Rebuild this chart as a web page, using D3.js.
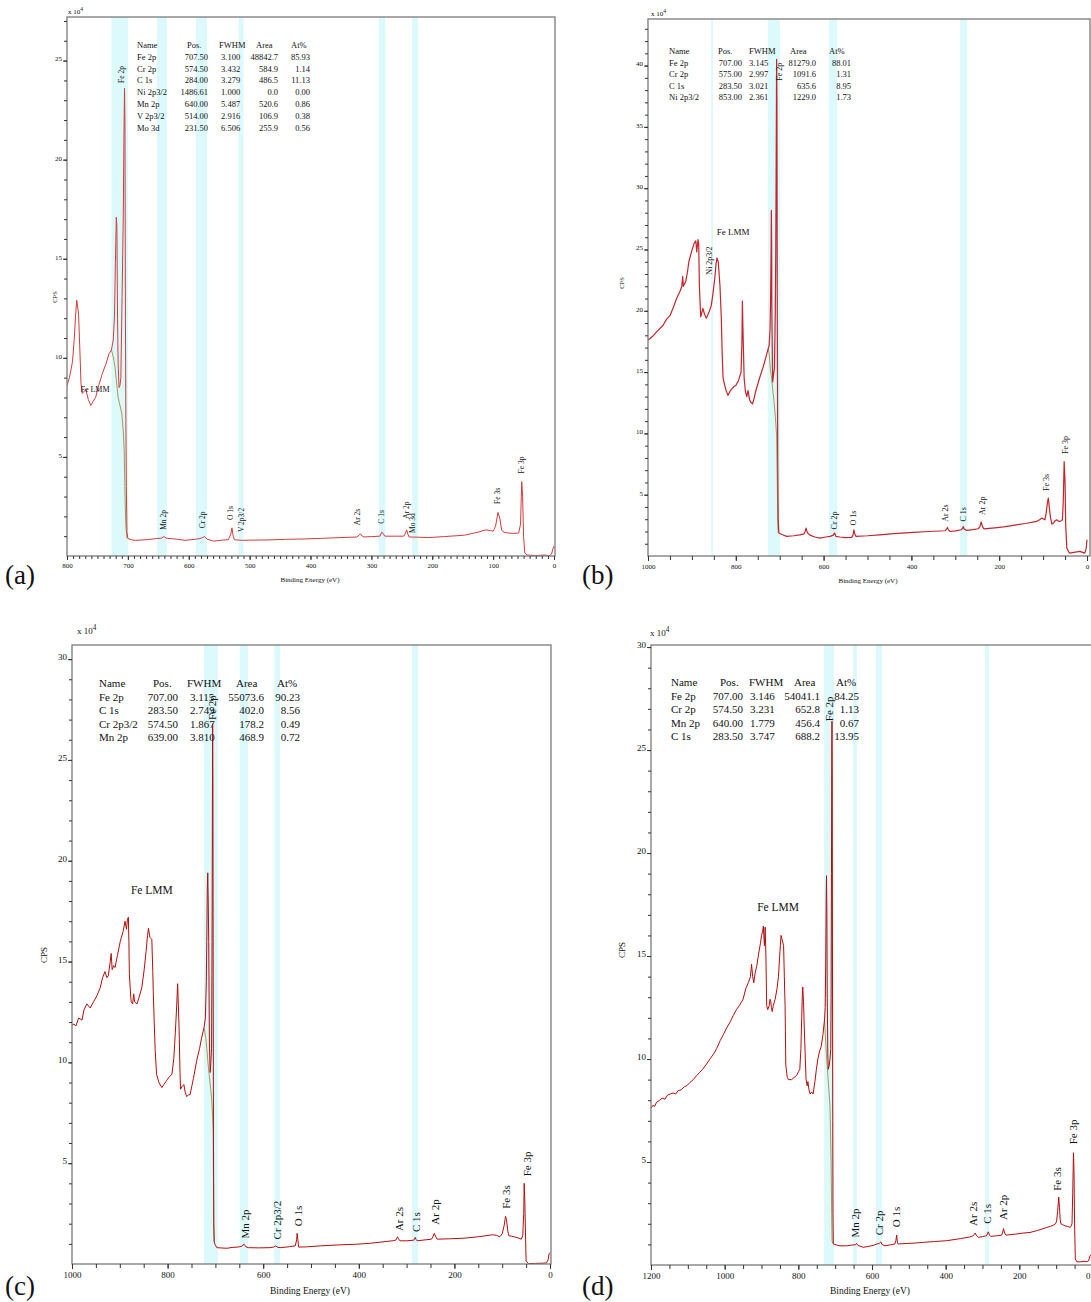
<!DOCTYPE html>
<html><head><meta charset="utf-8">
<script src="https://cdn.jsdelivr.net/npm/d3@7"></script>
<style>
body{margin:0;background:#fff}
svg{display:block}
text{font-family:"Liberation Serif","Times New Roman",serif;fill:#111}
</style>
</head><body>
<svg id="chart" width="1091" height="1302"></svg>
<script>
// ---------------- DATA ----------------
// spectra: [binding energy (eV), CPS (x10^4)]
const spectrumA = [[800,8.6],[796,9.0],[791,9.8],[788,11.0],[786,12.1],[784,12.9],[783,12.7],[781,12.2],[779,10.5],[777,8.7],[775,8.2],[772,8.3],[769,8.4],[765,7.9],[761,7.6],[757,7.8],[753,8.0],[748,8.6],[742,9.2],[736,9.7],[731,10.2],[727,10.4],[724,10.9],[722,12.1],[720.5,14.8],[719,17.1],[718,16.6],[717,12],[716,9.7],[714.5,8.5],[713,8.6],[711.5,9.0],[709.5,13.1],[707.5,17.3],[706.5,21],[705.5,23.6],[704.8,22],[704,12],[703.3,6.9],[702.5,3.5],[701.5,1.2],[700,0.88],[694,0.82],[688,0.79],[670,0.82],[653,0.88],[645,0.9],[641,0.98],[637,0.9],[620,0.85],[606,0.79],[590,0.84],[582,0.88],[578,0.92],[574,0.98],[570,0.85],[559,0.75],[545,0.8],[535,0.82],[531,1.1],[529,1.42],[527,1.0],[525,0.82],[512,0.79],[500,0.8],[470,0.81],[441,0.84],[410,0.86],[382,0.89],[350,0.93],[324,0.96],[320,1.05],[318,1.12],[315,1.0],[312,0.96],[300,0.98],[286,1.0],[283,1.2],[281,1.15],[278,1.0],[260,1.0],[247,1.0],[244,1.15],[242,1.32],[240,1.1],[238,0.96],[225,0.95],[206,0.93],[180,0.98],[147,1.05],[125,1.2],[112,1.32],[104,1.28],[100,1.25],[96,1.5],[92,2.2],[89,1.9],[86,1.3],[82,1.2],[76,1.16],[66,1.14],[58,1.16],[55,1.6],[53,3.75],[51.5,3.0],[50,1.0],[48,0.15],[44,0.05],[30,0.02],[15,0.05],[8,0.0],[4,0.1],[2,0.35],[0,0.5]];
const backgroundA = [[727,10.4],[724,10.05],[721,9.5],[716,8.0],[710,7.2],[707.5,6.3],[706,5.3],[705,3.5],[703.5,1.6],[701.5,0.9]];

const spectrumB = [[1000,17.6],[990,17.9],[980,18.3],[966,18.8],[958,19.3],[950,19.6],[943,20.2],[935,21.0],[927,21.6],[923,22.0],[921,22.8],[919.5,22.0],[914,22.4],[910,23.2],[907,24.0],[901,24.8],[895,25.5],[891,25.7],[889,24.8],[886,25.8],[884.5,25.5],[883,22.1],[880,19.5],[877,19.9],[875,20.2],[871,19.7],[867,19.4],[861,19.9],[856,20.4],[852,21.4],[848,22.6],[845,23.8],[843,24.3],[840,24.0],[836,22.0],[833,19.4],[831,16.5],[829,14.5],[823,13.6],[818,13.1],[812,13.5],[805,13.8],[800,13.9],[794,14.3],[788,15.0],[786,17.5],[785,20.8],[784,19.0],[782.5,16.7],[781,14.5],[778,13.4],[775,13.0],[772,13.5],[769,12.8],[767,12.6],[762,12.4],[758,12.9],[755,13.4],[746,14.5],[737,15.5],[730,16.4],[724,17.2],[722,18.5],[721,20.4],[719.5,25],[719,28.2],[718.3,25],[718,20.4],[716.5,15.5],[716,14.2],[714,14.8],[712,15.3],[710,20],[709,24.8],[708,32],[707,40.5],[706.3,37],[705.5,20],[704.5,8],[703.5,3],[702,1.87],[695,1.75],[684,1.6],[668,1.65],[654,1.73],[645,1.8],[642,2.0],[640,2.28],[637,1.9],[631,1.7],[620,1.55],[608,1.46],[595,1.55],[585,1.6],[578,1.7],[575,1.87],[572,1.6],[563,1.55],[550,1.5],[536,1.52],[533,1.7],[531,2.14],[529,1.8],[526,1.6],[500,1.65],[472,1.73],[440,1.82],[396,1.93],[360,2.0],[323,2.06],[320,2.2],[318,2.33],[316,2.15],[312,2.0],[300,2.05],[286,2.14],[283,2.3],[282,2.41],[280,2.2],[274,2.09],[260,2.15],[248,2.22],[244,2.4],[241,2.77],[238,2.4],[235,2.22],[210,2.3],[190,2.38],[168,2.5],[140,2.65],[115,2.82],[108,2.95],[103,3.09],[98,3.0],[96,2.95],[93,3.5],[90,4.4],[88,4.72],[86,4.0],[83,3.1],[80,2.6],[76,2.7],[72,2.9],[69,2.95],[65,2.85],[62,2.82],[58,2.9],[56,2.95],[54,4.5],[52,7.7],[50,6.0],[48.5,2.5],[46,0.65],[42,0.35],[39,0.24],[30,0.3],[20,0.35],[16,0.38],[10,0.3],[5,0.24],[2,0.6],[0,1.33]];
const backgroundB = [[726,16.9],[724,16.5],[721,15.2],[719,14.7],[716,13.6],[713,12.6],[710,11.4],[707,9.8],[705.5,6],[704.5,3],[703.5,1.9]];

const spectrumC = [[1000,11.85],[996,11.9],[992,11.8],[986,12.2],[979,12.1],[975,12.6],[969,12.9],[962,12.7],[955,13.0],[948,13.3],[941,13.7],[936,14.2],[931,14.5],[927,14.2],[924,14.3],[920,15.0],[918,15.4],[916,14.6],[913,14.8],[910,14.7],[905,15.3],[899,16.0],[893,16.5],[889,17.0],[886,16.6],[884,17.1],[882,17.2],[881,16.0],[880,14.4],[877,13.2],[876,13.0],[873,12.9],[871,13.4],[869,13.0],[864,12.9],[860,13.2],[854,13.7],[849,14.6],[845,15.5],[842,16.3],[840,16.65],[837,16.2],[833,16.1],[831,14.5],[830,13.5],[828,12],[826,10.6],[823,9.4],[818,9.0],[812,8.75],[808,8.9],[802,9.1],[796,9.3],[791,9.4],[787,10.2],[784,11.4],[781,12.8],[779,13.9],[778,13.2],[776,11.7],[774,9.5],[773,8.67],[770,8.8],[766,8.9],[763,8.5],[760,8.3],[756,8.4],[753,8.4],[746,9.2],[739,10.1],[733,10.7],[729,11.2],[724,11.7],[721,12.2],[719,14],[718,16.0],[717,18.5],[716,19.4],[715,18],[714,16.0],[712.5,11],[711,9.5],[709.5,10.0],[708,10.7],[707,16],[706.3,22],[705.8,26.8],[705.2,24],[704.6,14],[704,6],[703.4,2],[702.5,1.1],[701,0.98],[697,0.81],[690,0.8],[676,0.78],[665,0.82],[653,0.84],[645,0.88],[640,0.98],[636,0.85],[631,0.81],[610,0.8],[586,0.81],[578,0.84],[574,0.9],[569,0.82],[563,0.81],[545,0.86],[533,0.9],[530,1.2],[529,1.52],[527,1.1],[526,0.84],[510,0.85],[480,0.9],[440,0.95],[405,0.98],[375,1.03],[345,1.11],[330,1.15],[323,1.18],[320,1.3],[319,1.35],[317,1.25],[314,1.15],[300,1.15],[285,1.18],[283,1.28],[282,1.32],[280,1.2],[278,1.15],[260,1.2],[248,1.23],[245,1.35],[242,1.52],[239,1.35],[236,1.23],[210,1.25],[180,1.28],[150,1.35],[120,1.45],[112,1.42],[105,1.35],[100,1.5],[96,1.9],[93,2.36],[91,2.2],[88,1.6],[86,1.4],[80,1.38],[75,1.35],[71,1.32],[65,1.28],[60,1.23],[57,1.4],[55,2.5],[54,4.0],[52.5,3.0],[51,1.2],[50,0.14],[45,0.02],[30,0.03],[15,0.04],[7.5,0.05],[4,0.2],[2,0.5],[0,0.56]];
const backgroundC = [[724,11.7],[722,11.5],[720,11.2],[718,10.7],[716,10.1],[713,9.4],[710,8.7],[708,8.25],[706,7.4],[704.6,6.6],[704,4],[703.3,1.8],[702.5,1.1]];

const spectrumD = [[1200,7.6],[1195,7.75],[1190,7.7],[1185,7.9],[1176,8.0],[1170,8.1],[1162,8.05],[1155,8.25],[1148,8.3],[1140,8.35],[1133,8.3],[1126,8.47],[1118,8.5],[1110,8.65],[1103,8.7],[1095,8.85],[1085,9.0],[1076,9.2],[1068,9.35],[1060,9.5],[1049,9.76],[1040,10.0],[1030,10.25],[1022,10.5],[1012,10.9],[1003,11.2],[995,11.5],[985,11.8],[977,12.1],[968,12.4],[960,12.6],[950,12.9],[943,13.4],[936,13.7],[930,14.0],[927,14.6],[924,14.0],[921,13.7],[917,14.2],[913,14.5],[907,15.2],[903,15.6],[900,16.0],[897,16.2],[895,16.45],[893,15.8],[892,15.5],[890,16.4],[888,15],[886,12.6],[883,12.4],[879,12.6],[877,12.9],[875,12.8],[873,12.5],[871,12.3],[868,12.6],[863,12.9],[858,13.4],[854,14.0],[850,15.2],[847,16.0],[844,15.8],[840,15.5],[838,14],[836,12.6],[834,9.7],[830,9.1],[827,9.0],[818,9.0],[812,9.1],[805,9.2],[799,9.4],[796,9.5],[793,10.5],[791,11.9],[789,13.2],[788,13.5],[786,12.8],[784,11.6],[781,10],[779,9.0],[776,8.7],[774,8.9],[771,8.5],[768,8.3],[764,8.4],[760,8.3],[755,8.9],[751,9.5],[747,10.0],[742,10.4],[738,10.6],[733,11.2],[729,11.9],[727,12.5],[725.5,15],[724.5,17.5],[723.5,18.9],[722.5,17],[721.5,13],[720,10.2],[718.5,9.5],[716,9.7],[714,10.0],[712,10.5],[711,13],[710,19],[709.2,25],[708.6,26.4],[708,24],[707.3,15],[706.6,7],[706,2.5],[705,1.02],[696,0.97],[687,0.93],[669,0.93],[655,0.97],[645,0.98],[642,1.05],[638,0.95],[624,0.86],[610,0.9],[595,0.96],[587,1.02],[580,1.05],[576,1.12],[573,1.0],[565,0.93],[550,0.98],[538,1.02],[535,1.2],[533,1.45],[531,1.1],[529,1.02],[510,1.04],[488,1.06],[460,1.1],[430,1.14],[397,1.18],[360,1.28],[335,1.36],[325,1.42],[322,1.5],[320,1.55],[317,1.45],[311,1.34],[300,1.38],[289,1.42],[286,1.55],[284,1.61],[281,1.45],[278,1.39],[260,1.42],[248,1.45],[245,1.6],[243,1.77],[240,1.55],[236,1.45],[210,1.5],[190,1.55],[171,1.58],[150,1.68],[126,1.82],[115,1.88],[108,1.93],[102,2.0],[99,2.1],[96,2.6],[93,3.3],[91,2.8],[89,2.2],[87,2.0],[82,1.95],[76,1.9],[70,1.88],[65,1.85],[62,1.82],[59,1.9],[57,2.0],[55,3.5],[53,5.45],[51.5,4.5],[50,2],[48,0.29],[44,0.16],[35,0.15],[25,0.18],[17,0.16],[12,0.2],[8,0.45],[5,0.5]];
const backgroundD = [[729,11.9],[727,11.3],[724,10.3],[719,9.0],[714,7.7],[711,5],[709.5,2.5],[708.5,1.2],[707,1.05]];

// highlighted regions [high eV, low eV]
const bandsA = [[727,700],[652,636],[588,570],[518,510],[288,277],[233,223]];
const bandsB = [[856,852],[727,699],[588,569],[289,273]];
const bandsC = [[724,695],[649,632],[577,565],[289,276]];
const bandsD = [[730,703],[652,641],[589,573],[293,282]];

// peak annotations [text, eV, CPS]
const labelsA = [["Fe 2p",710,24.3],["Mn 2p",641,1.82],["Cr 2p",577,1.82],["O 1s",532,2.17],["V 2p3/2",514,1.82],["Ar 2s",322,1.97],["C 1s",283,1.97],["Ar 2p",243,2.32],["Mo 3d",232,1.66],["Fe 3s",92,3.03],["Fe 3p",54,4.59]];
const labelsB = [["Fe 2p",700,39.5],["Ni 2p3/2",859,24.1],["Cr 2p",576,2.9],["O 1s",533,3.1],["Ar 2s",323,3.5],["C 1s",282,3.4],["Ar 2p",239,4.1],["Fe 3s",93,6.0],["Fe 3p",50,9.05]];
const labelsC = [["Fe 2p",707,27.6],["Mn 2p",638,1.98],["Cr 2p3/2",571,2.18],["O 1s",527,2.38],["Ar 2s",316,2.23],["C 1s",280,2.08],["Ar 2p",241,2.58],["Fe 3s",92,3.32],["Fe 3p",48,4.96]];
const labelsD = [["Fe 2p",716,27.0],["Mn 2p",646,2.04],["Cr 2p",581,2.04],["O 1s",535,2.33],["Ar 2s",326,2.48],["C 1s",288,2.48],["Ar 2p",244,2.8],["Fe 3s",98,4.17],["Fe 3p",54,6.46]];
const lmmA = ["Fe LMM",754,8.38];
const lmmB = ["Fe LMM",806,26.4];
const lmmC = ["Fe LMM",833,18.55];
const lmmD = ["Fe LMM",855,17.4];

// quantification tables
const tableHeader = ["Name","Pos.","FWHM","Area","At%"];
const tableA = [["Fe 2p","707.50","3.100","48842.7","85.93"],["Cr 2p","574.50","3.432","584.9","1.14"],["C 1s","284.00","3.279","486.5","11.13"],["Ni 2p3/2","1486.61","1.000","0.0","0.00"],["Mn 2p","640.00","5.487","520.6","0.86"],["V 2p3/2","514.00","2.916","106.9","0.38"],["Mo 3d","231.50","6.506","255.9","0.56"]];
const tableB = [["Fe 2p","707.00","3.145","81279.0","88.01"],["Cr 2p","575.00","2.997","1091.6","1.31"],["C 1s","283.50","3.021","635.6","8.95"],["Ni 2p3/2","853.00","2.361","1229.0","1.73"]];
const tableC = [["Fe 2p","707.00","3.115","55073.6","90.23"],["C 1s","283.50","2.749","402.0","8.56"],["Cr 2p3/2","574.50","1.867","178.2","0.49"],["Mn 2p","639.00","3.810","468.9","0.72"]];
const tableD = [["Fe 2p","707.00","3.146","54041.1","84.25"],["Cr 2p","574.50","3.231","652.8","1.13"],["Mn 2p","640.00","1.779","456.4","0.67"],["C 1s","283.50","3.747","688.2","13.95"]];

// axis ticks
const xTicksA = [800,700,600,500,400,300,200,100,0];
const xTicksB = [1000,800,600,400,200,0];
const xTicksC = [1000,800,600,400,200,0];
const xTicksD = [1200,1000,800,600,400,200,0];
const yTicksA = [5,10,15,20,25];
const yTicksB = [5,10,15,20,25,30,35,40];
const yTicksC = [5,10,15,20,25,30];
const yTicksD = [5,10,15,20,25,30];

// ---------------- LAYOUT ----------------
const panels = [
 {key:"(a)", spec:spectrumA, bg:backgroundA, bands:bandsA, labels:labelsA, lmm:lmmA, table:tableA, xTicks:xTicksA, yTicks:yTicksA,
  xMax:800, xRange:[67,554], frameRight:555, top:17, bottom:556, yMax:27.2, xMinor:10, minorLen:3, majorLen:4,
  color:"#d23c3c", lw:1, tickFont:7, annFont:7.5, lmmFont:8, axisFont:7,
  tbl:{font:8.5, y:48, dy:11.8, name:137, posH:187, posR:208, fwhmH:219, fwhmL:221, areaH:256, areaR:278, atH:291, atR:310},
  cps:[57,297], be:[310,582], letter:[5,584], exp:[68,14], expFont:7},
 {key:"(b)", spec:spectrumB, bg:backgroundB, bands:bandsB, labels:labelsB, lmm:lmmB, table:tableB, xTicks:xTicksB, yTicks:yTicksB,
  xMax:1000, xRange:[648,1087], frameRight:1090, top:19, bottom:556, yMax:43.8, xMinor:50, minorLen:4, majorLen:5,
  color:"#c2262c", lw:1.2, tickFont:7, annFont:8, lmmFont:9, axisFont:7,
  tbl:{font:8.5, y:54, dy:11.5, name:669, posH:718, posR:742, fwhmH:749, fwhmL:749, areaH:790, areaR:816, atH:829, atR:851},
  cps:[624,283], be:[868,583], letter:[582,584], exp:[651,16], expFont:7},
 {key:"(c)", spec:spectrumC, bg:backgroundC, bands:bandsC, labels:labelsC, lmm:lmmC, table:tableC, xTicks:xTicksC, yTicks:yTicksC,
  xMax:1000, xRange:[72,550], frameRight:551, top:645, bottom:1264, yMax:30.7, xMinor:50, minorLen:4, majorLen:5,
  color:"#b50d0d", lw:1, tickFont:9, annFont:11, lmmFont:11.5, axisFont:9.5,
  tbl:{font:11, y:687, dy:13.5, name:99, posH:153, posR:178, fwhmH:187, fwhmL:190, areaH:236, areaR:264, atH:277, atR:300},
  cps:[47,955], be:[310,1294], letter:[5,1295], exp:[77,634], expFont:9},
 {key:"(d)", spec:spectrumD, bg:backgroundD, bands:bandsD, labels:labelsD, lmm:lmmD, table:tableD, xTicks:xTicksD, yTicks:yTicksD,
  xMax:1200, xRange:[651,1093], frameRight:1096, top:645, bottom:1265, yMax:30.1, xMinor:50, minorLen:4, majorLen:5,
  color:"#b50d0d", lw:1, tickFont:9, annFont:11, lmmFont:11.5, axisFont:9.5,
  tbl:{font:11, y:686, dy:13.5, name:671, posH:720, posR:743, fwhmH:749, fwhmL:750, areaH:794, areaR:820, atH:836, atR:859},
  cps:[625,950], be:[870,1294], letter:[582,1295], exp:[650,636], expFont:9}
];

// ---------------- DRAW ----------------
const W = 1091;
const svg = d3.select("#chart");
const defs = svg.append("defs");

panels.forEach((p, i) => {
  const g = svg.append("g");
  const x = d3.scaleLinear().domain([p.xMax, 0]).range(p.xRange);
  const y = d3.scaleLinear().domain([0, p.yMax]).range([p.bottom, p.top]);
  const left = p.xRange[0], right = p.frameRight;

  const clipId = "clip" + i;
  defs.append("clipPath").attr("id", clipId).append("rect")
    .attr("x", left).attr("y", p.top).attr("width", right - left).attr("height", p.bottom - p.top);

  // highlight bands
  g.append("g").selectAll("rect").data(p.bands).join("rect")
    .attr("x", d => x(d[0])).attr("width", d => x(d[1]) - x(d[0]))
    .attr("y", p.top).attr("height", p.bottom - p.top)
    .attr("fill", "#dcf9fc");

  // table
  const t = p.tbl;
  const tg = g.append("g").style("font-size", t.font + "px");
  const hx = [t.name, t.posH, t.fwhmH, t.areaH, t.atH];
  tg.selectAll("text.h").data(tableHeader).join("text").attr("class","h")
    .attr("x", (d, k) => hx[k]).attr("y", t.y).text(d => d);
  p.table.forEach((row, r) => {
    const yy = t.y + (r + 1) * t.dy;
    const cols = [[t.name,"start"],[t.posR,"end"],[t.fwhmL,"start"],[t.areaR,"end"],[t.atR,"end"]];
    row.forEach((v, k) => {
      tg.append("text").attr("x", cols[k][0]).attr("y", yy).attr("text-anchor", cols[k][1]).text(v);
    });
  });

  // spectra
  const line = d3.line().x(d => x(d[0])).y(d => y(d[1]));
  const lg = g.append("g").attr("clip-path", `url(#${clipId})`);
  lg.append("path").datum(p.bg).attr("d", line).attr("fill", "none")
    .attr("stroke", "#a39a55").attr("stroke-width", 1);
  lg.append("path").datum(p.spec).attr("d", line).attr("fill", "none")
    .attr("stroke", p.color).attr("stroke-width", p.lw).attr("stroke-linejoin", "round");

  // frame
  g.append("rect").attr("x", left).attr("y", p.top).attr("width", right - left).attr("height", p.bottom - p.top)
    .attr("fill", "none").attr("stroke", "#7a7a7a").attr("stroke-width", 1.3);

  // x axis
  const minor = d3.range(0, p.xMax + 0.01, p.xMinor);
  g.append("g").attr("transform", `translate(0,${p.bottom})`)
    .call(d3.axisBottom(x).tickValues(minor).tickSize(p.minorLen).tickFormat(""))
    .call(s => { s.select(".domain").remove(); s.selectAll("line").attr("stroke", "#333"); });
  g.append("g").attr("transform", `translate(0,${p.bottom})`)
    .call(d3.axisBottom(x).tickValues(p.xTicks).tickSize(p.majorLen).tickPadding(3).tickFormat(d3.format("d")))
    .call(s => {
      s.select(".domain").remove();
      s.selectAll("line").attr("stroke", "#333");
      s.selectAll("text").attr("font-family", "Liberation Serif, serif").attr("font-size", p.tickFont).attr("fill", "#111");
      // keep labels that would run past the page edge inside it
      s.selectAll("g.tick").each(function(d) {
        const tx = x(d);
        const txt = d3.select(this).select("text");
        const w = txt.node().getComputedTextLength();
        if (tx + w / 2 > W - 1) txt.attr("text-anchor", "end").attr("x", (W - 1) - tx);
      });
    });

  // y axis
  const yMinor = d3.range(1, Math.floor(p.yMax) + 1, 1);
  g.append("g").attr("transform", `translate(${left},0)`)
    .call(d3.axisLeft(y).tickValues(yMinor).tickSize(3).tickFormat(""))
    .call(s => { s.select(".domain").remove(); s.selectAll("line").attr("stroke", "#333"); });
  g.append("g").attr("transform", `translate(${left},0)`)
    .call(d3.axisLeft(y).tickValues(p.yTicks).tickSize(4).tickPadding(1).tickFormat(d3.format("d")))
    .call(s => {
      s.select(".domain").remove();
      s.selectAll("line").attr("stroke", "#333");
      s.selectAll("text").attr("font-family", "Liberation Serif, serif").attr("font-size", p.tickFont)
        .attr("fill", "#111").attr("dy", "0.05em");
    });

  // exponent
  const ex = g.append("text").attr("x", p.exp[0]).attr("y", p.exp[1]).attr("font-size", p.expFont);
  ex.append("tspan").text("x 10");
  ex.append("tspan").attr("dy", -p.expFont * 0.5).attr("font-size", p.expFont * 0.8).text("4");

  // axis titles
  g.append("text").attr("transform", `translate(${p.cps[0]},${p.cps[1]}) rotate(-90)`)
    .attr("text-anchor", "middle").attr("font-size", p.axisFont - 0.5).text("CPS");
  g.append("text").attr("x", p.be[0]).attr("y", p.be[1]).attr("text-anchor", "middle")
    .attr("font-size", p.axisFont).text("Binding Energy (eV)");

  // panel letter
  g.append("text").attr("x", p.letter[0]).attr("y", p.letter[1]).attr("font-size", 27).text(p.key);

  // peak annotations
  g.append("g").selectAll("text").data(p.labels).join("text")
    .attr("transform", d => `translate(${x(d[1])},${y(d[2])}) rotate(-90)`)
    .attr("text-anchor", "middle").attr("dominant-baseline", "central")
    .attr("font-size", p.annFont).text(d => d[0]);
  g.append("text").attr("x", x(p.lmm[1])).attr("y", y(p.lmm[2])).attr("text-anchor", "middle")
    .attr("dominant-baseline", "central").attr("font-size", p.lmmFont).text(p.lmm[0]);
});
</script>
</body></html>
